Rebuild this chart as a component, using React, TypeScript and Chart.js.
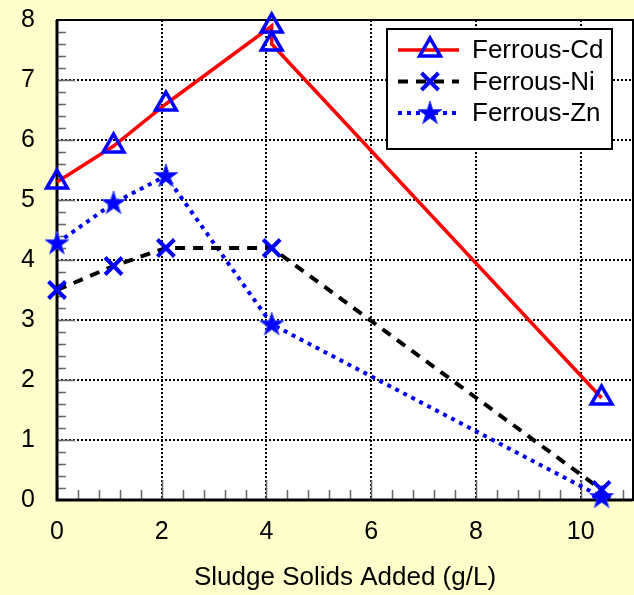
import { useEffect, useRef } from "react";
import { Chart, registerables } from "chart.js";
import { drawPoint } from "chart.js/helpers";

Chart.register(...registerables);

const seriesNames = ["Ferrous-Cd", "Ferrous-Ni", "Ferrous-Zn"];
const xCd = [0, 1.08, 2.08, 4.1, 4.1, 10.4];
const yCd = [5.3, 5.9, 6.6, 7.9, 7.6, 1.7];
const xNi = [0, 1.08, 2.08, 4.1, 10.4];
const yNi = [3.5, 3.9, 4.2, 4.2, 0.17];
const xZn = [0, 1.08, 2.08, 4.1, 10.4];
const yZn = [4.28, 4.95, 5.4, 2.93, 0.05];

const xTicks = [0, 2, 4, 6, 8, 10];
const yTicks = [0, 1, 2, 3, 4, 5, 6, 7, 8];
const xMinorStep = 0.4;
const yMinorStep = 0.2;
const xMax = 11;
const yMax = 8;
const xTitle = "Sludge Solids Added (g/L)";

const FONT = "'Liberation Sans', Arial, Helvetica, sans-serif";
const PLOT_RIGHT = 633;

function makeStar(): HTMLCanvasElement {
  const c = document.createElement("canvas");
  c.width = 26;
  c.height = 26;
  const g = c.getContext("2d")!;
  const cx = 13, cy = 13.5, R = 12.5, r = R * 0.382;
  g.beginPath();
  for (let i = 0; i < 10; i++) {
    const rad = (i % 2 === 0 ? R : r);
    const a = -Math.PI / 2 + (i * Math.PI) / 5;
    const px = cx + rad * Math.cos(a);
    const py = cy + rad * Math.sin(a);
    if (i === 0) g.moveTo(px, py); else g.lineTo(px, py);
  }
  g.closePath();
  g.fillStyle = "#0000FF";
  g.fill();
  g.strokeStyle = "#3344FF";
  g.lineWidth = 1;
  g.stroke();
  return c;
}

const toPts = (xs: number[], ys: number[]) => xs.map((x, i) => ({ x, y: ys[i] }));

export default function App() {
  const ref = useRef<HTMLCanvasElement | null>(null);

  useEffect(() => {
    document.body.style.margin = "0";
    const canvas = ref.current!;
    const star = makeStar();

    const framePlugin = {
      id: "frame",
      afterLayout(chart: any) {
        const a = chart.chartArea;
        const xs = chart.scales.x;
        if (Math.abs(a.right - PLOT_RIGHT) > 0.1) {
          a.right = PLOT_RIGHT;
          a.width = a.right - a.left;
          xs.right = PLOT_RIGHT;
          xs.width = xs.right - xs.left;
          xs.configure();
        }
      },
      beforeDraw(chart: any) {
        const { ctx, width, height, chartArea: a } = chart;
        ctx.save();
        ctx.fillStyle = "#FFFFCC";
        ctx.fillRect(0, 0, width, height);
        ctx.fillStyle = "#FFFFFF";
        ctx.fillRect(a.left, a.top, a.right - a.left, a.bottom - a.top);
        ctx.restore();
      },
      beforeDatasetsDraw(chart: any) {
        const { ctx, chartArea: a, scales } = chart;
        const xs = scales.x, ys = scales.y;
        ctx.save();
        ctx.strokeStyle = "#666666";
        ctx.lineWidth = 1.5;
        ctx.beginPath();
        for (let v = xMinorStep; v < xMax - 1e-6; v += xMinorStep) {
          const px = Math.round(xs.getPixelForValue(v)) + 0.5;
          ctx.moveTo(px, a.bottom);
          ctx.lineTo(px, a.bottom - 10);
        }
        for (const t of xTicks) {
          const px = Math.round(xs.getPixelForValue(t)) + 0.5;
          ctx.moveTo(px, a.bottom);
          ctx.lineTo(px, a.bottom - 20);
        }
        for (let v = yMinorStep; v < yMax - 1e-6; v += yMinorStep) {
          const py = Math.round(ys.getPixelForValue(v)) + 0.5;
          const major = yTicks.some((t) => Math.abs(t - v) < 1e-6);
          ctx.moveTo(a.left, py);
          ctx.lineTo(a.left + (major ? 18 : 9), py);
        }
        ctx.stroke();
        ctx.strokeStyle = "#000000";
        ctx.lineWidth = 2;
        ctx.strokeRect(a.left, a.top, a.right - a.left, a.bottom - a.top);
        ctx.lineWidth = 3;
        ctx.beginPath();
        ctx.moveTo(a.left, a.top);
        ctx.lineTo(a.left, a.bottom);
        ctx.lineTo(a.right, a.bottom);
        ctx.stroke();
        ctx.restore();
      },
      afterDraw(chart: any) {
        const { ctx, chartArea: a } = chart;
        const bx = a.right - 246, by = a.top + 9, bw = 225, bh = 120;
        ctx.save();
        ctx.fillStyle = "#FFFFFF";
        ctx.fillRect(bx, by, bw, bh);
        ctx.strokeStyle = "#000000";
        ctx.lineWidth = 2;
        ctx.strokeRect(bx, by, bw, bh);
        chart.data.datasets.forEach((ds: any, i: number) => {
          const yy = by + 21 + i * 31.5;
          ctx.save();
          ctx.strokeStyle = ds.borderColor;
          ctx.lineWidth = ds.borderWidth;
          ctx.setLineDash(ds.borderDash || []);
          ctx.beginPath();
          ctx.moveTo(bx + 11, yy);
          ctx.lineTo(bx + 72, yy);
          ctx.stroke();
          ctx.restore();
          ctx.save();
          ctx.strokeStyle = ds.pointBorderColor;
          ctx.fillStyle = ds.pointBackgroundColor;
          ctx.lineWidth = ds.pointBorderWidth;
          drawPoint(ctx, {
            pointStyle: ds.pointStyle,
            radius: ds.pointRadius,
            rotation: 0,
            borderWidth: ds.pointBorderWidth,
          } as any, bx + 43, yy);
          ctx.restore();
          ctx.fillStyle = "#000000";
          ctx.font = `26px ${FONT}`;
          ctx.textBaseline = "middle";
          ctx.textAlign = "left";
          ctx.fillText(ds.label, bx + 85, yy + 1);
        });
        ctx.restore();
      },
    };

    const chart = new Chart(canvas, {
      type: "line",
      data: {
        datasets: [
          {
            label: seriesNames[0],
            data: toPts(xCd, yCd),
            borderColor: "#FF0000",
            borderWidth: 3.5,
            pointStyle: "triangle",
            pointRadius: 12,
            pointBorderWidth: 3.5,
            pointBorderColor: "#0000FF",
            pointBackgroundColor: "rgba(0,0,0,0)",
            clip: false as any,
          },
          {
            label: seriesNames[1],
            data: toPts(xNi, yNi),
            borderColor: "#000000",
            borderWidth: 4,
            borderDash: [10, 8],
            pointStyle: "crossRot",
            pointRadius: 12,
            pointBorderWidth: 4,
            pointBorderColor: "#0000FF",
            pointBackgroundColor: "#0000FF",
            clip: false as any,
          },
          {
            label: seriesNames[2],
            data: toPts(xZn, yZn),
            borderColor: "#0000FF",
            borderWidth: 4,
            borderDash: [4, 5],
            pointStyle: star as any,
            pointRadius: 12,
            pointBorderWidth: 1,
            pointBorderColor: "#0000FF",
            pointBackgroundColor: "#0000FF",
            clip: false as any,
          },
        ] as any,
      },
      options: {
        animation: false,
        responsive: false,
        events: [],
        layout: { padding: { top: 20, right: 1, left: 0, bottom: 0 } },
        plugins: { legend: { display: false }, tooltip: { enabled: false } },
        scales: {
          x: {
            type: "linear",
            min: 0,
            max: xMax,
            afterBuildTicks: (s: any) => {
              s.ticks = xTicks.map((v) => ({ value: v }));
            },
            afterFit: (s: any) => {
              s.height = 95;
              s.paddingLeft = 0;
              s.paddingRight = 0;
              s.paddingTop = 0;
              s.paddingBottom = 0;
            },
            ticks: {
              color: "#000000",
              font: { size: 25, family: FONT },
              padding: 17,
              maxRotation: 0,
            },
            grid: { color: "#000000", lineWidth: 2, drawTicks: false },
            border: { display: false, dash: [2, 2] },
            title: {
              display: true,
              text: xTitle,
              color: "#000000",
              font: { size: 26, family: FONT },
              padding: { top: 0, bottom: 2 },
            },
          },
          y: {
            type: "linear",
            min: 0,
            max: yMax,
            afterBuildTicks: (s: any) => {
              s.ticks = yTicks.map((v) => ({ value: v }));
            },
            afterFit: (s: any) => {
              s.width = 57;
              s.paddingLeft = 0;
              s.paddingRight = 0;
              s.paddingTop = 0;
              s.paddingBottom = 0;
            },
            ticks: {
              color: "#000000",
              font: { size: 25, family: FONT },
              padding: 22,
            },
            grid: { color: "#000000", lineWidth: 2, drawTicks: false },
            border: { display: false, dash: [2, 2] },
          },
        },
      } as any,
      plugins: [framePlugin],
    });
    return () => chart.destroy();
  }, []);

  return <canvas ref={ref} width={634} height={595} style={{ display: "block" }} />;
}
